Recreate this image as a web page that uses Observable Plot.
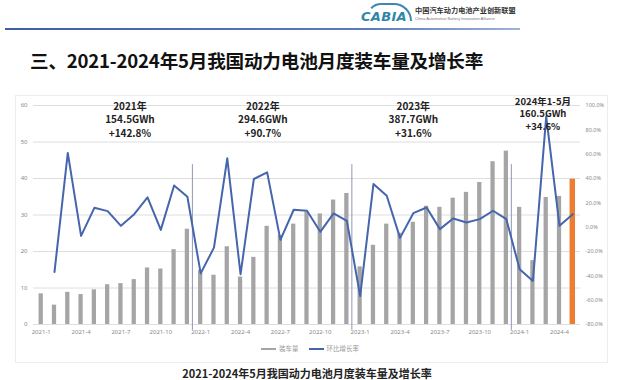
<!DOCTYPE html>
<html>
<head>
<meta charset="utf-8">
<script src="https://cdn.jsdelivr.net/npm/d3@7"></script>
<script src="https://cdn.jsdelivr.net/npm/@observablehq/plot@0.6"></script>
<style>
  html, body { margin: 0; padding: 0; background: #fff; }
  body { width: 620px; height: 380px; position: relative; overflow: hidden; font-family: "Noto Sans CJK SC", "Noto Sans", sans-serif; }
  .abs { position: absolute; }
  #topline { left: 5px; top: 28px; width: 515px; height: 2px; background: linear-gradient(to right, #3f5fa3, #5b7bbd 70%, #9fb3da); }
  #arc { left: 366px; top: 3px; width: 42px; height: 16px; border: 2px solid #3d86b5; border-bottom: none; border-radius: 22px 26px 0 0; border-left-color: transparent; }
  #cabia { left: 361px; top: 9px; font: italic bold 13px "DejaVu Sans", sans-serif; color: #2f86a8; letter-spacing: 0.3px; }
  #orgcn { left: 415px; top: 5px; font: bold 7.2px "Noto Sans CJK SC", sans-serif; color: #333; white-space: nowrap; }
  #orgen { left: 415px; top: 16px; font: 4px "Liberation Sans", sans-serif; color: #777; white-space: nowrap; }
  #title { left: 30px; top: 46px; font: bold 18.6px "Noto Sans CJK SC", sans-serif; color: #111; white-space: nowrap; letter-spacing: -0.2px; }
  #box { left: 15px; top: 95px; width: 591px; height: 266px; border: 1px solid #ececec; }
  #chart { left: 0; top: 90px; }
  #legend { left: 0; width: 620px; top: 343px; text-align: center; font-size: 6.5px; color: #999; white-space: nowrap; }
  #legend span.sw { display: inline-block; width: 15px; height: 2px; vertical-align: middle; margin: 0 3px 0 0; }
  #legend span.item { margin: 0 5px; }
  #caption { left: 0; width: 614px; top: 365px; text-align: center; font: bold 11px "Noto Sans CJK SC", sans-serif; color: #222; white-space: nowrap; }
</style>
</head>
<body>
<div class="abs" id="arc"></div>
<div class="abs" id="cabia">CABIA</div>
<div class="abs" id="orgcn">中国汽车动力电池产业创新联盟</div>
<div class="abs" id="orgen">China Automotive Battery Innovation Alliance</div>
<div class="abs" id="topline"></div>
<div class="abs" id="title">三、2021-2024年5月我国动力电池月度装车量及增长率</div>
<div class="abs" id="box"></div>
<div class="abs" id="chart"></div>
<div class="abs" id="legend"></div>
<div class="abs" id="caption">2021-2024年5月我国动力电池月度装车量及增长率</div>
<script>
// ---- data ----
const months = [
  "2021-1","2021-2","2021-3","2021-4","2021-5","2021-6","2021-7","2021-8","2021-9","2021-10","2021-11","2021-12",
  "2022-1","2022-2","2022-3","2022-4","2022-5","2022-6","2022-7","2022-8","2022-9","2022-10","2022-11","2022-12",
  "2023-1","2023-2","2023-3","2023-4","2023-5","2023-6","2023-7","2023-8","2023-9","2023-10","2023-11","2023-12",
  "2024-1","2024-2","2024-3","2024-4","2024-5"
];
// 装车量 (GWh)
const volume = [
  8.4, 5.3, 8.8, 8.2, 9.5, 10.9, 11.2, 12.3, 15.5, 15.2, 20.5, 26.1,
  14.8, 13.5, 21.3, 13.0, 18.4, 26.9, 24.4, 27.5, 30.8, 30.3, 34.1, 35.9,
  15.8, 21.7, 27.5, 25.0, 28.0, 32.4, 32.1, 34.6, 36.2, 38.9, 44.6, 47.5,
  32.1, 17.5, 34.8, 35.1, 39.8
];
// 环比增长率 (%)
const growth = [
  null, -36.8, 61.0, -7.1, 15.9, 13.2, 1.1, 10.7, 24.5, -2.2, 34.3, 25.0,
  -38.0, -16.8, 56.6, -38.7, 39.6, 45.0, -10.4, 14.3, 13.5, -3.8, 11.3, 5.2,
  -56.6, 35.4, 25.8, -8.8, 11.5, 16.2, -1.6, 7.1, 3.8, 6.6, 13.5, 6.6,
  -34.6, -44.2, 91.0, 1.1, 10.7
];
const highlightMonths = ["2024-5"];
const xTickMonths = ["2021-1","2021-4","2021-7","2021-10","2022-1","2022-4","2022-7","2022-10","2023-1","2023-4","2023-7","2023-10","2024-1","2024-4"];
const leftTicks = [0, 10, 20, 30, 40, 50, 60];
const rightTicks = [100, 80, 60, 40, 20, 0, -20, -40, -60, -80];
const yearEndMonths = ["2021-12", "2022-12", "2023-12"];
const annMonths = ["2021-7", "2022-5", "2023-5", "2024-2"];
const annTexts = ["2021年\n154.5GWh\n+142.8%", "2022年\n294.6GWh\n+90.7%", "2023年\n387.7GWh\n+31.6%", "2024年1-5月\n160.5GWh\n+34.6%"];

// ---- build ----
const leftMax = 60, rightMin = -80, rightMax = 100;
const toY = p => (p - rightMin) / (rightMax - rightMin) * leftMax;   // % -> left-axis units
const toPct = y => rightMin + y / leftMax * (rightMax - rightMin);

const data = months.map((m, i) => ({month: m, vol: volume[i], growth: growth[i]}));
const lineData = data.filter(d => d.growth != null);

const annDx = [9, 9, 0, 10];
const annMarks = annMonths.map((m, i) => Plot.text([{month: m, text: annTexts[i]}], {
  x: "month", y: i === 3 ? 62.6 : 61.4, text: "text", dx: annDx[i],
  lineAnchor: "top", lineHeight: i === 3 ? 1.32 : 1.35,
  fontSize: i === 3 ? 9.5 : 10, fontWeight: "bold", fill: "#222",
  fontFamily: "Noto Sans CJK SC"
}));

const chart = Plot.plot({
  width: 620,
  height: 255,
  marginTop: 15,
  marginBottom: 21,
  marginLeft: 33,
  marginRight: 40,
  style: {fontFamily: "'Noto Sans', sans-serif", background: "transparent"},
  x: {type: "band", domain: months, paddingInner: 0.68, paddingOuter: 0.42, round: false, axis: null},
  y: {domain: [0, leftMax], axis: null},
  marks: [
    Plot.gridY(leftTicks, {stroke: "#dedede", strokeOpacity: 1}),
    Plot.axisY({anchor: "left", ticks: leftTicks, tickSize: 0, tickPadding: 6, fontSize: 6, color: "#8a8a8a", label: null}),
    Plot.axisY({anchor: "right", ticks: rightTicks.map(toY), tickFormat: d => toPct(d).toFixed(1) + "%", tickSize: 0, tickPadding: 5, fontSize: 5.5, color: "#8a8a8a", label: null}),
    Plot.axisX({ticks: xTickMonths, tickSize: 0, tickPadding: 5, fontSize: 6, color: "#8a8a8a", label: null}),
    Plot.barY(data, {x: "month", y: "vol", fill: "#a5a5a5", filter: d => !highlightMonths.includes(d.month)}),
    Plot.barY(data, {x: "month", y: "vol", fill: "#ed7d31", insetLeft: -0.6, insetRight: -0.6, filter: d => highlightMonths.includes(d.month)}),
    Plot.ruleX(yearEndMonths, {x: d => d, dx: 5, y1: 43.8, y2: -1.6, stroke: "#8f98b8", strokeWidth: 1}),
    Plot.line(lineData, {x: "month", y: d => toY(d.growth), stroke: "#4565ad", strokeWidth: 2}),
    ...annMarks
  ]
});
document.getElementById("chart").appendChild(chart);

document.getElementById("legend").innerHTML =
  '<span class="item"><span class="sw" style="background:#a5a5a5"></span>装车量</span>' +
  '<span class="item"><span class="sw" style="background:#4565ad"></span>环比增长率</span>';
</script>
</body>
</html>
